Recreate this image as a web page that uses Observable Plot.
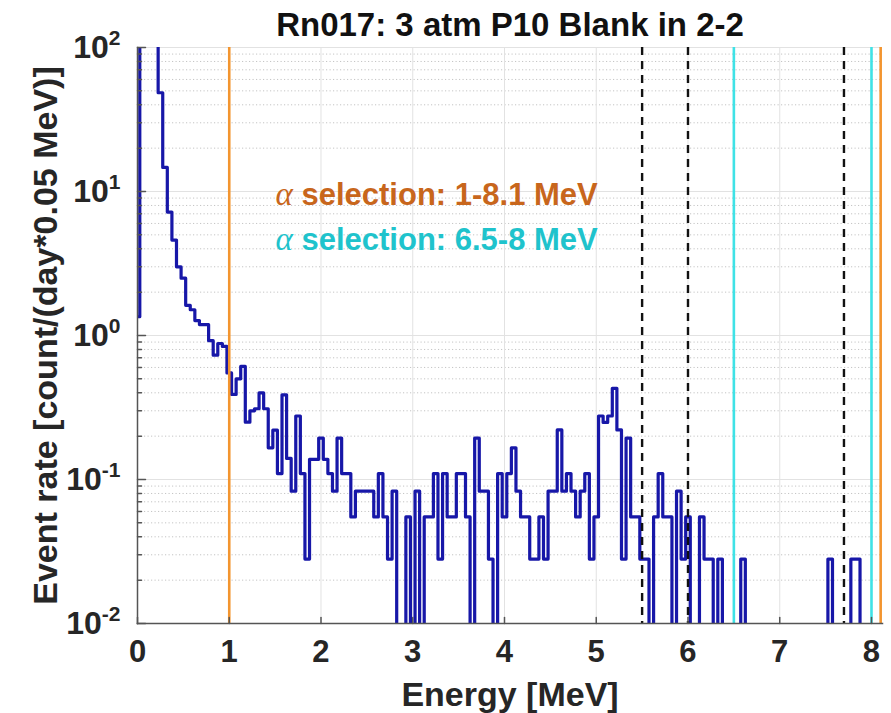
<!DOCTYPE html>
<html><head><meta charset="utf-8">
<script src="https://cdn.jsdelivr.net/npm/d3@7"></script>
<script src="https://cdn.jsdelivr.net/npm/@observablehq/plot@0.6"></script>
<style>body{margin:0;background:#fff} svg{display:block}</style>
</head><body><div id="chart"></div>
<script>
// ---- data ----
const binWidth = 0.05;          // MeV, bins centred on multiples of 0.05
const firstBinCenter = 0;
const rates = [
  1.35, 400, 300, 200, 130, 48.5, 14.7, 7.2, 4.6, 3.0,          // 0.00-0.45
  2.5, 1.62, 1.51, 1.27, 1.19, 1.19, 0.92, 0.73, 0.88, 0.84,     // 0.50-0.95
  0.55, 0.39, 0.50, 0.61, 0.25, 0.30, 0.31, 0.40, 0.31, 0.166,   // 1.00-1.45
  0.22, 0.11, 0.387, 0.14, 0.083, 0.276, 0.11, 0.028, 0.138, 0.138, // 1.50-1.95
  0.194, 0.138, 0.11, 0.083, 0.194, 0.11, 0.11, 0.055, 0.083, 0.083, // 2.00-2.45
  0.083, 0.083, 0.055, 0.11, 0.055, 0.028, 0.083, 0, 0, 0.055,   // 2.50-2.95
  0, 0.083, 0, 0.055, 0.055, 0.11, 0.028, 0.11, 0.055, 0.055,    // 3.00-3.45
  0.11, 0.11, 0.055, 0, 0.194, 0.083, 0.083, 0.028, 0, 0.11,     // 3.50-3.95
  0.055, 0.11, 0.166, 0.083, 0.055, 0.055, 0.028, 0.028, 0.055, 0.028, // 4.00-4.45
  0.083, 0.083, 0.221, 0.083, 0.11, 0.083, 0.055, 0.083, 0.11, 0.028, // 4.50-4.95
  0.055, 0.276, 0.249, 0.276, 0.43, 0.221, 0.028, 0.194, 0.055, 0.055, // 5.00-5.45
  0.028, 0.028, 0, 0.055, 0.11, 0.055, 0.055, 0, 0.083, 0.028,   // 5.50-5.95
  0.055, 0, 0, 0.055, 0.028, 0.028, 0, 0.028, 0, 0,              // 6.00-6.45
  0, 0, 0.028, 0, 0, 0, 0, 0, 0, 0,                              // 6.50-6.95
  0, 0, 0, 0, 0, 0, 0, 0, 0, 0,                                  // 7.00-7.45
  0, 0.028, 0, 0, 0, 0, 0.028, 0.028, 0, 0,                      // 7.50-7.95
  0, 0, 0                                                        // 8.00-8.10
];
const xTicks = [0, 1, 2, 3, 4, 5, 6, 7, 8];
const yMajor = [0.01, 0.1, 1, 10, 100];
const yMinor = [0.02,0.03,0.04,0.05,0.06,0.07,0.08,0.09,
                0.2,0.3,0.4,0.5,0.6,0.7,0.8,0.9,
                2,3,4,5,6,7,8,9,
                20,30,40,50,60,70,80,90];
const orangeLines = [1, 8.1];
const cyanLines = [6.5, 8];
const dashedLines = [5.5, 6, 7.7];
const legendLabels = ["α selection: 1-8.1 MeV", "α selection: 6.5-8 MeV"];
const legendColors = ["#c8661c", "#1fc3cc"];
const titleText = "Rn017: 3 atm P10 Blank in 2-2";
const xLabel = "Energy [MeV]";
const yLabel = "Event rate [count/(day*0.05 MeV)]";

// ---- build stair data ----
const floorValue = 1e-4; // empty bins fall off the bottom of the log axis
const stairs = rates.map((v, i) => ({
  x: firstBinCenter + i * binWidth - binWidth / 2,
  y: v > 0 ? v : floorValue
}));
stairs.push({x: firstBinCenter + rates.length * binWidth - binWidth / 2, y: stairs[stairs.length - 1].y});

const font = "'Liberation Sans', Arial, Helvetica, sans-serif";
const ink = "#262626";
const tickShape = {draw(context, l) { context.moveTo(0, 0); context.lineTo(0, -l); }};

const chart = Plot.plot({
  width: 891,
  height: 713,
  marginLeft: 137,
  marginRight: 9,
  marginTop: 47,
  marginBottom: 90,
  style: {fontFamily: font, background: "#fff", overflow: "visible"},
  x: {domain: [0, 8.12]},
  y: {type: "log", domain: [0.01, 100]},
  marks: [
    // grid
    Plot.ruleY(yMinor, {stroke: "#c4c4c4", strokeWidth: 1, strokeDasharray: "1.2,2.3"}),
    Plot.ruleY(yMajor, {stroke: "#e2e2e2", strokeWidth: 1}),
    Plot.ruleX(xTicks, {stroke: "#e2e2e2", strokeWidth: 1}),
    // histogram
    Plot.line(stairs, {x: "x", y: "y", curve: "step-after", stroke: "#1717a8", strokeWidth: 3.2, clip: true}),
    // selection lines
    Plot.ruleX(dashedLines, {stroke: "#111", strokeWidth: 2.4, strokeDasharray: "8,6"}),
    Plot.ruleX(cyanLines, {stroke: "#3fe2e6", strokeWidth: 2.6}),
    Plot.ruleX(orangeLines, {stroke: "#f3952f", strokeWidth: 2.6}),
    // axis lines
    Plot.frame({anchor: "left", stroke: "#555", strokeWidth: 1.5}),
    Plot.frame({anchor: "bottom", stroke: "#555", strokeWidth: 1.5}),
    // inward ticks
    Plot.vector(xTicks, {x: d => d, frameAnchor: "bottom", length: 6, rotate: 0, anchor: "start", shape: tickShape, stroke: "#555", strokeWidth: 1.5}),
    Plot.vector(yMajor, {y: d => d, frameAnchor: "left", length: 8, rotate: 90, anchor: "start", shape: tickShape, stroke: "#555", strokeWidth: 1.5}),
    Plot.vector(yMinor, {y: d => d, frameAnchor: "left", length: 4, rotate: 90, anchor: "start", shape: tickShape, stroke: "#555", strokeWidth: 1.5}),
    // tick labels
    Plot.axisX(xTicks, {tickSize: 0, tickPadding: 16, fontSize: 31, fontWeight: "bold", fill: ink, label: null}),
    Plot.axisY(yMajor, {tickSize: 0, tickPadding: 17, fontSize: 32, fontWeight: "bold", fill: ink, label: null,
      tickFormat: d => "10^" + Math.round(Math.log10(d))}),
    // titles
    Plot.text([titleText], {frameAnchor: "top", dy: -22, lineAnchor: "middle", fontSize: 33, fontWeight: "bold", fill: "#111"}),
    Plot.text([xLabel], {frameAnchor: "bottom", dy: 72, lineAnchor: "middle", fontSize: 34, fontWeight: "bold", fill: ink}),
    Plot.text([yLabel], {frameAnchor: "left", dx: -91, rotate: -90, textAnchor: "middle", lineAnchor: "middle", fontSize: 34, fontWeight: "bold", fill: ink}),
    // legend annotations
    Plot.text([legendLabels[0]], {frameAnchor: "top-left", dx: 138, dy: 148, fontSize: 31, fontWeight: "bold",
      fill: legendColors[0], textAnchor: "start", lineAnchor: "middle", className: "legend-row"}),
    Plot.text([legendLabels[1]], {frameAnchor: "top-left", dx: 138, dy: 193, fontSize: 31, fontWeight: "bold",
      fill: legendColors[1], textAnchor: "start", lineAnchor: "middle", className: "legend-row"})
  ]
});

document.getElementById("chart").appendChild(chart);

// superscript exponents on the y tick labels
d3.select(chart).selectAll('g[aria-label="y-axis tick label"] text').each(function () {
  const t = this.textContent;
  const m = t.match(/^10\^(-?\d+)$/);
  if (!m) return;
  const sel = d3.select(this);
  sel.text("10");
  sel.append("tspan").attr("dy", "-13px").attr("font-size", "21px").text(m[1]);
});

// legend text: italic alpha
d3.select(chart).selectAll(".legend-row text").each(function () {
  const sel = d3.select(this);
  const label = this.textContent;
  sel.text("");
  sel.append("tspan").attr("font-family", "'Liberation Serif', 'DejaVu Serif', serif")
     .attr("font-style", "italic").attr("font-weight", "normal").attr("font-size", "33px").text(label.slice(0, 1));
  sel.append("tspan").text(label.slice(1));
});
</script>
</body></html>
